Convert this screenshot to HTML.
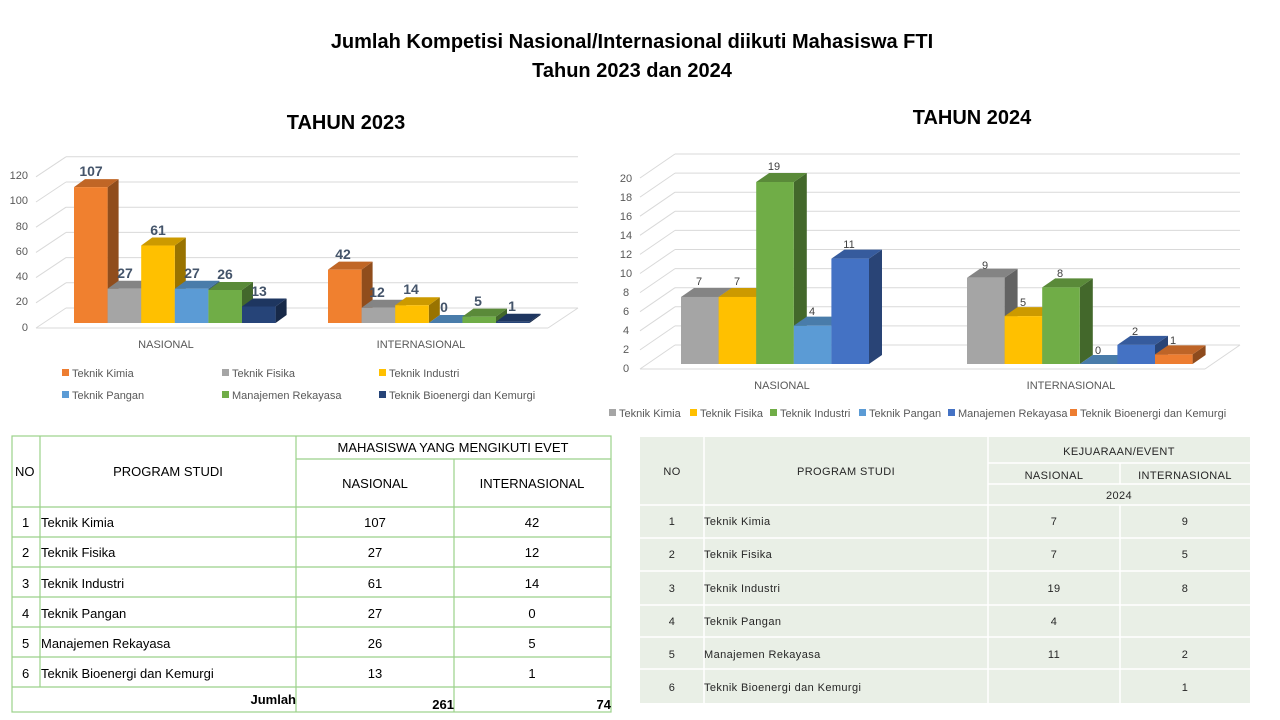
<!DOCTYPE html>
<html><head><meta charset="utf-8"><style>
html,body{margin:0;padding:0;background:#fff;width:1280px;height:720px;overflow:hidden}
svg{display:block;font-family:"Liberation Sans",Arial,sans-serif}
</style></head><body>
<svg id="s" width="1280" height="720" xmlns="http://www.w3.org/2000/svg">
<g font-weight="bold" font-size="20" fill="#000" text-anchor="middle">
<text x="632" y="48">Jumlah Kompetisi Nasional/Internasional diikuti Mahasiswa FTI</text>
<text x="632" y="77">Tahun 2023 dan 2024</text>
<text x="346" y="129">TAHUN 2023</text>
<text x="972" y="124">TAHUN 2024</text>
</g>
<g id="grid" stroke="#d9d9d9" stroke-width="1" fill="none"></g>
<g id="bars"></g>
<!-- 2023 axis labels -->
<g font-size="11" fill="#595959" text-anchor="end">
<text x="28" y="179">120</text><text x="28" y="204">100</text><text x="28" y="230">80</text><text x="28" y="255">60</text><text x="28" y="280">40</text><text x="28" y="305">20</text><text x="28" y="331">0</text>
</g>
<g font-size="11" fill="#595959" text-anchor="middle">
<text x="166" y="348">NASIONAL</text><text x="421" y="348">INTERNASIONAL</text>
</g>
<g font-size="14" font-weight="bold" fill="#44546a" text-anchor="middle">
<text x="91" y="176">107</text><text x="125" y="278">27</text><text x="158" y="235">61</text><text x="192" y="278">27</text><text x="225" y="279">26</text><text x="259" y="296">13</text>
<text x="343" y="259">42</text><text x="377" y="297">12</text><text x="411" y="294">14</text><text x="444" y="312">0</text><text x="478" y="306">5</text><text x="512" y="311">1</text>
</g>
<g font-size="11" fill="#595959">
<rect x="62" y="369" width="7" height="7" fill="#ed7d31"/><text x="72" y="377">Teknik Kimia</text>
<rect x="222" y="369" width="7" height="7" fill="#a5a5a5"/><text x="232" y="377">Teknik Fisika</text>
<rect x="379" y="369" width="7" height="7" fill="#ffc000"/><text x="389" y="377">Teknik Industri</text>
<rect x="62" y="391" width="7" height="7" fill="#5b9bd5"/><text x="72" y="399">Teknik Pangan</text>
<rect x="222" y="391" width="7" height="7" fill="#70ad47"/><text x="232" y="399">Manajemen Rekayasa</text>
<rect x="379" y="391" width="7" height="7" fill="#264478"/><text x="389" y="399">Teknik Bioenergi dan Kemurgi</text>
</g>
<!-- 2024 axis labels -->
<g font-size="11" fill="#595959" text-anchor="middle">
<text x="626" y="182">20</text><text x="626" y="201">18</text><text x="626" y="220">16</text><text x="626" y="239">14</text><text x="626" y="258">12</text><text x="626" y="277">10</text><text x="626" y="296">8</text><text x="626" y="315">6</text><text x="626" y="334">4</text><text x="626" y="353">2</text><text x="626" y="372">0</text>
<text x="782" y="389">NASIONAL</text><text x="1071" y="389">INTERNASIONAL</text>
</g>
<g font-size="11" fill="#404040" text-anchor="middle">
<text x="699" y="285">7</text><text x="737" y="285">7</text><text x="774" y="170">19</text><text x="812" y="315">4</text><text x="849" y="248">11</text>
<text x="985" y="269">9</text><text x="1023" y="306">5</text><text x="1060" y="277">8</text><text x="1098" y="354">0</text><text x="1135" y="335">2</text><text x="1173" y="344">1</text>
</g>
<g font-size="11" fill="#595959">
<rect x="609" y="409" width="7" height="7" fill="#a5a5a5"/><text x="619" y="417">Teknik Kimia</text>
<rect x="690" y="409" width="7" height="7" fill="#ffc000"/><text x="700" y="417">Teknik Fisika</text>
<rect x="770" y="409" width="7" height="7" fill="#70ad47"/><text x="780" y="417">Teknik Industri</text>
<rect x="859" y="409" width="7" height="7" fill="#5b9bd5"/><text x="869" y="417">Teknik Pangan</text>
<rect x="948" y="409" width="7" height="7" fill="#4472c4"/><text x="958" y="417">Manajemen Rekayasa</text>
<rect x="1070" y="409" width="7" height="7" fill="#ed7d31"/><text x="1080" y="417">Teknik Bioenergi dan Kemurgi</text>
</g>
<!-- Left table -->
<g stroke="#9bd18a" stroke-width="1.2" fill="none">
<rect x="12" y="436" width="599" height="276"/>
<line x1="40" y1="436" x2="40" y2="687"/>
<line x1="296" y1="436" x2="296" y2="712"/>
<line x1="454" y1="459" x2="454" y2="712"/>
<line x1="296" y1="459" x2="611" y2="459"/>
<line x1="12" y1="507" x2="611" y2="507"/>
<line x1="12" y1="537" x2="611" y2="537"/>
<line x1="12" y1="567" x2="611" y2="567"/>
<line x1="12" y1="597" x2="611" y2="597"/>
<line x1="12" y1="627" x2="611" y2="627"/>
<line x1="12" y1="657" x2="611" y2="657"/>
<line x1="12" y1="687" x2="611" y2="687"/>
</g>
<g font-size="13" fill="#000">
<text x="15" y="476">NO</text>
<text x="168" y="476" text-anchor="middle">PROGRAM STUDI</text>
<text x="453" y="452" text-anchor="middle">MAHASISWA YANG MENGIKUTI EVET</text>
<text x="375" y="488" text-anchor="middle">NASIONAL</text>
<text x="532" y="488" text-anchor="middle">INTERNASIONAL</text>
<text x="22" y="527">1</text><text x="41" y="527">Teknik Kimia</text><text x="375" y="527" text-anchor="middle">107</text><text x="532" y="527" text-anchor="middle">42</text>
<text x="22" y="557">2</text><text x="41" y="557">Teknik Fisika</text><text x="375" y="557" text-anchor="middle">27</text><text x="532" y="557" text-anchor="middle">12</text>
<text x="22" y="588">3</text><text x="41" y="588">Teknik Industri</text><text x="375" y="588" text-anchor="middle">61</text><text x="532" y="588" text-anchor="middle">14</text>
<text x="22" y="618">4</text><text x="41" y="618">Teknik Pangan</text><text x="375" y="618" text-anchor="middle">27</text><text x="532" y="618" text-anchor="middle">0</text>
<text x="22" y="648">5</text><text x="41" y="648">Manajemen Rekayasa</text><text x="375" y="648" text-anchor="middle">26</text><text x="532" y="648" text-anchor="middle">5</text>
<text x="22" y="678">6</text><text x="41" y="678">Teknik Bioenergi dan Kemurgi</text><text x="375" y="678" text-anchor="middle">13</text><text x="532" y="678" text-anchor="middle">1</text>
<g font-weight="bold"><text x="296" y="704" text-anchor="end">Jumlah</text><text x="454" y="709" text-anchor="end">261</text><text x="611" y="709" text-anchor="end">74</text></g>
</g>
<!-- Right table -->
<rect x="640" y="437" width="610" height="266" fill="#e9efe6"/>
<g stroke="#fff" stroke-width="1.5">
<line x1="704" y1="437" x2="704" y2="703"/>
<line x1="988" y1="437" x2="988" y2="703"/>
<line x1="1120" y1="463" x2="1120" y2="484"/>
<line x1="1120" y1="505" x2="1120" y2="703"/>
<line x1="988" y1="463" x2="1250" y2="463"/>
<line x1="988" y1="484" x2="1250" y2="484"/>
<line x1="640" y1="505" x2="1250" y2="505"/>
<line x1="640" y1="538" x2="1250" y2="538"/>
<line x1="640" y1="571" x2="1250" y2="571"/>
<line x1="640" y1="605" x2="1250" y2="605"/>
<line x1="640" y1="637" x2="1250" y2="637"/>
<line x1="640" y1="669" x2="1250" y2="669"/>
</g>
<g font-size="11" fill="#262626" letter-spacing="0.4">
<text x="672" y="475" text-anchor="middle">NO</text>
<text x="846" y="475" text-anchor="middle">PROGRAM STUDI</text>
<text x="1119" y="455" text-anchor="middle">KEJUARAAN/EVENT</text>
<text x="1054" y="479" text-anchor="middle">NASIONAL</text>
<text x="1185" y="479" text-anchor="middle">INTERNASIONAL</text>
<text x="1119" y="499" text-anchor="middle">2024</text>
<text x="672" y="525" text-anchor="middle">1</text><text x="704" y="525">Teknik Kimia</text><text x="1054" y="525" text-anchor="middle">7</text><text x="1185" y="525" text-anchor="middle">9</text>
<text x="672" y="558" text-anchor="middle">2</text><text x="704" y="558">Teknik Fisika</text><text x="1054" y="558" text-anchor="middle">7</text><text x="1185" y="558" text-anchor="middle">5</text>
<text x="672" y="592" text-anchor="middle">3</text><text x="704" y="592">Teknik Industri</text><text x="1054" y="592" text-anchor="middle">19</text><text x="1185" y="592" text-anchor="middle">8</text>
<text x="672" y="625" text-anchor="middle">4</text><text x="704" y="625">Teknik Pangan</text><text x="1054" y="625" text-anchor="middle">4</text>
<text x="672" y="658" text-anchor="middle">5</text><text x="704" y="658">Manajemen Rekayasa</text><text x="1054" y="658" text-anchor="middle">11</text><text x="1185" y="658" text-anchor="middle">2</text>
<text x="672" y="691" text-anchor="middle">6</text><text x="704" y="691">Teknik Bioenergi dan Kemurgi</text><text x="1185" y="691" text-anchor="middle">1</text>
</g>
</svg>
<script>
(function(){
var NS="http://www.w3.org/2000/svg";
var grid=document.getElementById("grid"),bars=document.getElementById("bars");
function el(p,tag,a){var e=document.createElementNS(NS,tag);for(var k in a)e.setAttribute(k,a[k]);p.appendChild(e);return e;}
// 2023 grid
for(var v=0;v<=120;v+=20){var yb=308-1.26*v,yf=328-1.26*v;
 el(grid,"line",{x1:66,y1:yb,x2:578,y2:yb});
 el(grid,"line",{x1:36,y1:yf,x2:66,y2:yb});}
el(grid,"line",{x1:36,y1:328,x2:548,y2:328});
el(grid,"line",{x1:548,y1:328,x2:578,y2:308});
// 2024 grid
for(var v=0;v<=20;v+=2){var yb=345-9.55*v,yf=369-9.55*v;
 el(grid,"line",{x1:675,y1:yb,x2:1240,y2:yb});
 el(grid,"line",{x1:640,y1:yf,x2:675,y2:yb});}
el(grid,"line",{x1:640,y1:369,x2:1205,y2:369});
el(grid,"line",{x1:1205,y1:369,x2:1240,y2:345});
function shade(h,f){var r=parseInt(h.substr(1,2),16),g=parseInt(h.substr(3,2),16),b=parseInt(h.substr(5,2),16);
 return "rgb("+Math.round(r*f)+","+Math.round(g*f)+","+Math.round(b*f)+")";}
function bar(x,w,top,base,dx,dy,c){
 el(bars,"polygon",{points:(x+w)+","+top+" "+(x+w+dx)+","+(top-dy)+" "+(x+w+dx)+","+(base-dy)+" "+(x+w)+","+base,fill:shade(c,0.6)});
 el(bars,"polygon",{points:x+","+top+" "+(x+dx)+","+(top-dy)+" "+(x+w+dx)+","+(top-dy)+" "+(x+w)+","+top,fill:shade(c,0.8)});
 el(bars,"rect",{x:x,y:top,width:w,height:base-top,fill:c});}
var c23=["#f0802f","#a5a5a5","#ffc000","#5b9bd5","#70ad47","#264478"];
var n23=[107,27,61,27,26,13],i23=[42,12,14,0,5,1];
for(var i=0;i<6;i++){
 bar(74+33.6*i,33.6,323-1.27*n23[i],323,11,8,c23[i]);}
for(var i=0;i<6;i++){
 bar(328+33.6*i,33.6,323-1.27*i23[i],323,11,8,c23[i]);}
var c24=["#a5a5a5","#ffc000","#70ad47","#5b9bd5","#4472c4","#ed7d31"];
var n24=[7,7,19,4,11],i24=[9,5,8,0,2,1];
for(var i=0;i<5;i++) bar(681+37.6*i,37.6,364-9.58*n24[i],364,13,9,c24[i]);
for(var i=0;i<6;i++) bar(967+37.6*i,37.6,364-9.58*i24[i],364,13,9,c24[i]);
})();
</script>
</body></html>
